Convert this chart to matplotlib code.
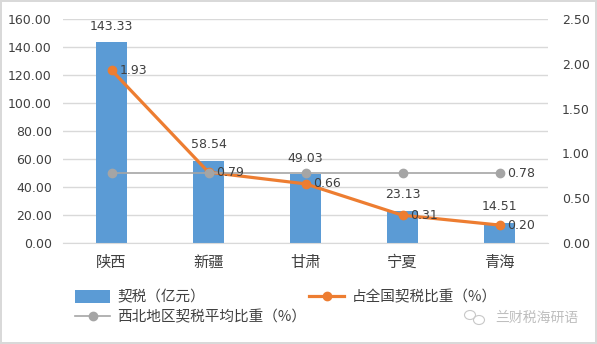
import matplotlib.pyplot as plt
from matplotlib.patches import Ellipse

plt.rcParams['font.family'] = ['DejaVu Sans', 'Noto Sans CJK SC']
cjk = ['Noto Sans CJK SC', 'DejaVu Sans']

# deed tax by province in the northwest
provinces = ['陕西', '新疆', '甘肃', '宁夏', '青海']
tax = [143.33, 58.54, 49.03, 23.13, 14.51]          # 亿元
share = [1.93, 0.79, 0.66, 0.31, 0.20]              # % of national total
avg_share = [0.78, 0.78, 0.78, 0.78, 0.78]          # regional average %

blue = '#5B9BD5'
orange = '#ED7D31'
gray = '#A5A5A5'
txt = '#404040'

fig = plt.figure(figsize=(5.97, 3.44), dpi=100)
fig.patch.set_edgecolor('#D9D9D9')
fig.patch.set_linewidth(1.5)
ax = fig.add_axes([63 / 597, 1 - 243 / 344, 485 / 597, 224 / 344])
ax2 = ax.twinx()

x = range(len(provinces))
bars = ax.bar(x, tax, width=0.31, color=blue, zorder=2, label='契税（亿元）')
ax.set_ylim(0, 160)
ax.set_yticks(range(0, 161, 20))
ax.set_yticklabels(['%.2f' % v for v in range(0, 161, 20)])
ax.set_xlim(-0.5, len(provinces) - 0.5)
ax.set_xticks(list(x))
ax.set_xticklabels(provinces, fontsize=11, color=txt, family=cjk)
ax.grid(axis='y', color='#D9D9D9', linewidth=1, zorder=0)
ax.set_axisbelow(True)
for i, v in enumerate(tax):
    ax.text(i, v + 7, '%.2f' % v, ha='center', va='bottom', fontsize=9, color=txt)

ln1, = ax2.plot(x, share, color=orange, lw=2.3, marker='o', ms=6, zorder=3,
                label='占全国契税比重（%）')
ln2, = ax2.plot(x, avg_share, color=gray, lw=1.2, marker='o', ms=6, zorder=4,
                label='西北地区契税平均比重（%）')
ax2.set_ylim(0, 2.5)
ax2.set_yticks([0, 0.5, 1.0, 1.5, 2.0, 2.5])
ax2.set_yticklabels(['%.2f' % v for v in [0, 0.5, 1.0, 1.5, 2.0, 2.5]])
for i, v in enumerate(share):
    ax2.text(i + 0.08, v, '%.2f' % v, ha='left', va='center', fontsize=9, color=txt, zorder=5)
ax2.text(len(provinces) - 1 + 0.08, avg_share[-1], '%.2f' % avg_share[-1],
         ha='left', va='center', fontsize=9, color=txt)

for a in (ax, ax2):
    for s in a.spines.values():
        s.set_visible(False)
    a.tick_params(length=0, labelsize=9, labelcolor=txt)
ax.spines['bottom'].set_visible(True)
ax.spines['bottom'].set_color('#D9D9D9')
ax.tick_params(axis='x', pad=8, labelsize=11)
ax.tick_params(axis='y', pad=8)
ax2.tick_params(axis='y', pad=10)
ax.set_zorder(ax2.get_zorder() - 1)
ax2.patch.set_visible(False)

# legend is filled column by column, so order handles to read row-wise
handles = [bars, ln2, ln1]
fig.legend(handles, [h.get_label() for h in handles],
           loc='upper left', bbox_to_anchor=(62 / 597, 1 - 277 / 344), ncol=2,
           frameon=False, prop={'family': cjk, 'size': 10.5}, labelcolor=txt,
           handlelength=2.4, handleheight=1.0, columnspacing=0.2,
           handletextpad=0.5, labelspacing=0.35)

# watermark
fig.text(578 / 597, 1 - 318 / 344, '兰财税海研语', ha='right', va='center',
         fontsize=10, color='#BFBFBF', family=cjk)
fig.add_artist(Ellipse((470 / 597, 1 - 315 / 344), 11 / 597, 9 / 344,
                       fill=False, ec='#C8C8C8', lw=0.8))
fig.add_artist(Ellipse((479 / 597, 1 - 320 / 344), 11 / 597, 9 / 344,
                       fill=False, ec='#C8C8C8', lw=0.8))

fig.savefig('out.png', dpi=100)
